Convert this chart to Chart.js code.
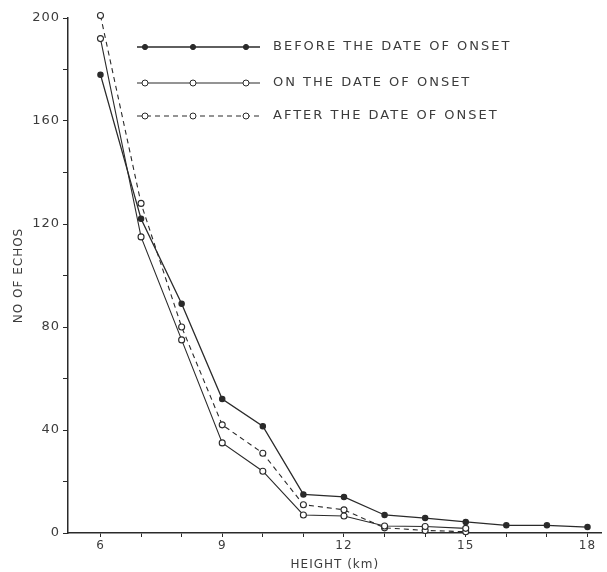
<!DOCTYPE html>
<html>
<head>
<meta charset="utf-8">
<script src="https://cdn.jsdelivr.net/npm/chart.js@4"></script>
<style>
  html, body { margin: 0; padding: 0; background: #fff; }
  #wrap { width: 607px; height: 572px; }
</style>
</head>
<body>
<div id="wrap"><canvas id="myChart"></canvas></div>
<script>
'use strict';

// DATA
let heights = [6, 7, 8, 9, 10, 11, 12, 13, 14, 15, 16, 17, 18];
let beforeOnset = [178, 122, 89, 52, 41.5, 15, 14, 7, 5.8, 4.3, 3, 3, 2.3];
let onOnset = [192, 115, 75, 35, 24, 7, 6.6, 2.7, 2.5, 1.8];
let afterOnset = [201, 128, 80, 42, 31, 11, 9, 2, 1, 0.5];
let seriesNames = ['BEFORE THE DATE OF ONSET', 'ON THE DATE OF ONSET', 'AFTER THE DATE OF ONSET'];
let xLabelTicks = [6, 9, 12, 15, 18];
let yLabelTicks = [0, 40, 80, 120, 160, 200];

const INK = '#2a2a2a';
const TEXT = '#3c3c3c';
const FONT = '"DejaVu Sans", sans-serif';

// HELPERS
function toPoints(values){
  let pts = [];
  for(let i = 0; i < values.length; i++){
    pts.push({x: heights[i], y: values[i]});
  }
  return pts;
}

// the old typewriter-ish lettering is spaced out a bit
const spacedText = {
  id: 'spacedText',
  beforeDraw(chart){
    chart.ctx.letterSpacing = '1px';
  }
};

// legend drawn the way the paper does it: a line with three markers
const paperLegend = {
  id: 'paperLegend',
  afterDraw(chart){
    let ctx = chart.ctx;
    let rows = [47, 83, 116];
    ctx.save();
    for(let i = 0; i < chart.data.datasets.length; i++){
      let ds = chart.data.datasets[i];
      let y = rows[i];
      ctx.strokeStyle = INK;
      ctx.lineWidth = ds.borderWidth;
      ctx.setLineDash(ds.borderDash || []);
      ctx.beginPath();
      ctx.moveTo(137, y);
      ctx.lineTo(260, y);
      ctx.stroke();
      ctx.setLineDash([]);
      let mx = [145, 193, 246];
      for(let j = 0; j < mx.length; j++){
        ctx.beginPath();
        ctx.arc(mx[j], y, ds.pointRadius, 0, Math.PI * 2);
        ctx.fillStyle = ds.pointBackgroundColor;
        ctx.fill();
        ctx.lineWidth = 1;
        ctx.stroke();
      }
      ctx.fillStyle = TEXT;
      ctx.font = '13px ' + FONT;
      ctx.letterSpacing = '2px';
      ctx.textBaseline = 'middle';
      ctx.fillText(seriesNames[i], 273, y);
    }
    ctx.restore();
  }
};

const ctx = document.getElementById('myChart');
const myChart = new Chart(ctx, {
  type: 'line',
  data: {
    datasets: [
      {
        label: seriesNames[0],
        data: toPoints(beforeOnset),
        borderColor: INK,
        borderWidth: 1.3,
        pointRadius: 2.6,
        pointBackgroundColor: INK,
        pointBorderColor: INK,
        clip: false,
      },
      {
        label: seriesNames[1],
        data: toPoints(onOnset),
        borderColor: INK,
        borderWidth: 1.1,
        pointRadius: 3,
        pointBackgroundColor: '#fff',
        pointBorderColor: INK,
        pointBorderWidth: 1.1,
        clip: false,
      },
      {
        label: seriesNames[2],
        data: toPoints(afterOnset),
        borderColor: INK,
        borderWidth: 1.1,
        borderDash: [5, 4],
        pointRadius: 3,
        pointBackgroundColor: '#fff',
        pointBorderColor: INK,
        pointBorderWidth: 1.1,
        clip: false,
      }
    ]
  },
  options: {
    responsive: true,
    maintainAspectRatio: false,
    animation: false,
    layout: { padding: { top: 18, right: 2, left: 0, bottom: 0 } },
    plugins: {
      legend: { display: false },
      tooltip: { enabled: false },
    },
    scales: {
      x: {
        type: 'linear',
        min: 5.2,
        max: 18.35,
        afterBuildTicks(scale){
          let t = [];
          for(let v = 6; v <= 18; v++){ t.push({value: v}); }
          scale.ticks = t;
        },
        afterFit(scale){ scale.height = 39; },
        border: { display: true, color: INK, width: 1.5 },
        grid: { drawOnChartArea: false, drawTicks: true, tickLength: 4, color: INK },
        ticks: {
          color: TEXT,
          font: { family: FONT, size: 12 },
          padding: 2,
          maxRotation: 0,
          autoSkip: false,
          callback: function(v){ return xLabelTicks.includes(v) ? String(v) : ''; }
        },
        title: {
          display: true,
          text: 'HEIGHT (km)',
          color: TEXT,
          font: { family: FONT, size: 12 },
          padding: { top: 0, bottom: 0 }
        }
      },
      y: {
        min: 0,
        max: 200,
        afterBuildTicks(scale){
          let t = [];
          for(let v = 0; v <= 200; v += 20){ t.push({value: v}); }
          scale.ticks = t;
        },
        afterFit(scale){ scale.width = 68; },
        border: { display: true, color: INK, width: 1.5 },
        grid: { drawOnChartArea: false, drawTicks: true, tickLength: 5, color: INK },
        ticks: {
          color: TEXT,
          font: { family: FONT, size: 13 },
          padding: 3,
          autoSkip: false,
          callback: function(v){ return yLabelTicks.includes(v) ? String(v) : ''; }
        },
        title: {
          display: true,
          text: 'NO OF ECHOS',
          color: TEXT,
          font: { family: FONT, size: 12 },
          padding: { top: 12, bottom: 4 }
        }
      }
    }
  },
  plugins: [spacedText, paperLegend]
});
</script>
</body>
</html>
